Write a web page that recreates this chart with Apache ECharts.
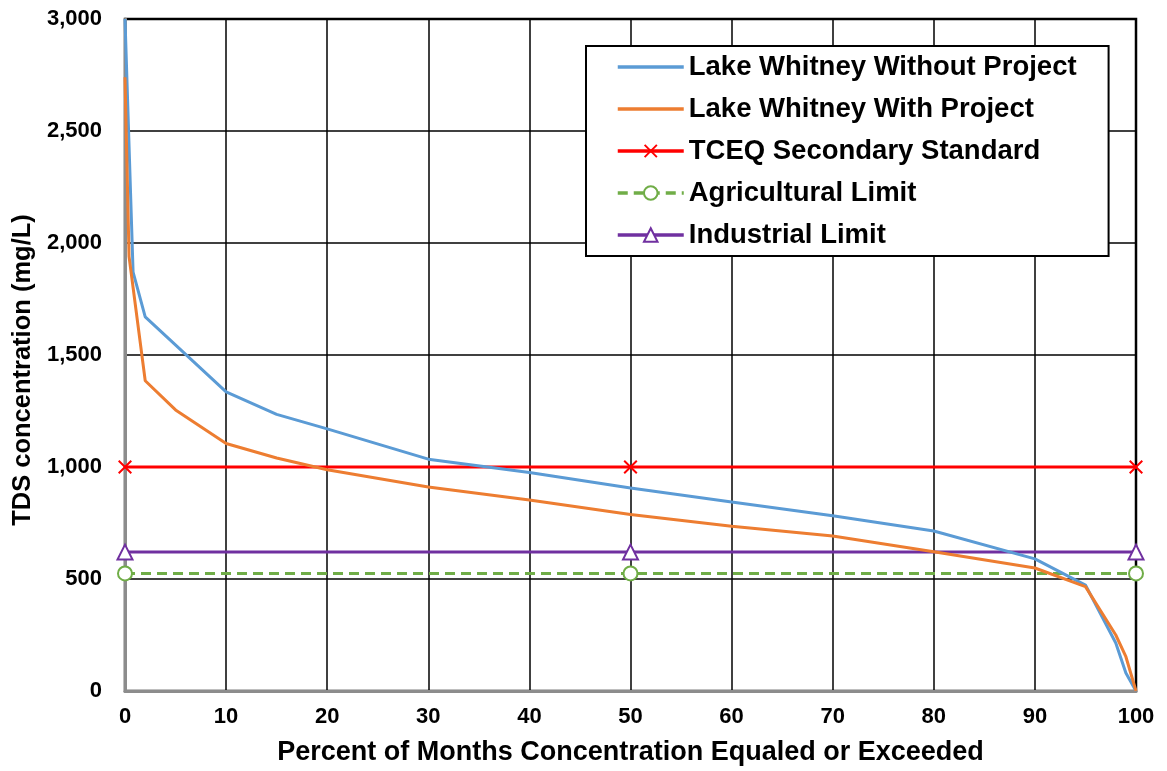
<!DOCTYPE html>
<html>
<head>
<meta charset="utf-8">
<script src="https://cdn.jsdelivr.net/npm/echarts@6/dist/echarts.min.js"></script>
<style>
  html, body { margin: 0; padding: 0; background: #fff; }
  #chart { width: 1167px; height: 771px; }
</style>
</head>
<body>
<div id="chart"></div>
<script>
// Exceedance curves: [percent of months, TDS mg/L]
const withoutProject = [
  [0, 3000], [0.8, 1870], [2, 1670], [10, 1335], [15, 1235], [20, 1170],
  [30, 1035], [40, 975], [50, 906], [60, 844], [70, 782], [80, 714],
  [90, 590], [95, 473], [98, 214], [99, 80], [100, 0]
];
const withProject = [
  [0, 2740], [0.4, 1940], [2, 1385], [5, 1255], [10, 1105], [15, 1040],
  [20, 988], [30, 911], [40, 853], [50, 788], [60, 735], [70, 692],
  [80, 622], [90, 549], [95, 466], [98, 250], [99, 153], [100, 0]
];
// Reference limits (mg/L), marked at 0, 50 and 100 percent
const limitX = [0, 50, 100];
const tceqStandard = 1000;
const agriculturalLimit = 525;
const industrialLimit = 620;

const seriesNames = [
  'Lake Whitney Without Project',
  'Lake Whitney With Project',
  'TCEQ Secondary Standard',
  'Agricultural Limit',
  'Industrial Limit'
];

const FONT = '"Liberation Sans", Arial, sans-serif';
const crossPath = 'path://M0,1L1,0L5,4L9,0L10,1L6,5L10,9L9,10L5,6L1,10L0,9L4,5Z';

const limitLine = v => limitX.map(x => [x, v]);

// Curves have no markers, so hide the symbol in their legend icons
const legendData = seriesNames.map((name, i) =>
  i < 2 ? { name, itemStyle: { opacity: 0 } } : { name });

const chart = echarts.init(document.getElementById('chart'), null, { renderer: 'canvas' });
chart.setOption({
  animation: false,
  backgroundColor: '#fff',
  grid: {
    left: 125, right: 31, top: 19, bottom: 80,
    show: true, borderColor: '#000', borderWidth: 2.5, backgroundColor: 'transparent'
  },
  legend: {
    orient: 'vertical',
    left: 586, top: 46,
    padding: [6, 32, 6, 30],
    itemGap: 12,
    itemWidth: 66, itemHeight: 17,
    backgroundColor: '#fff',
    borderColor: '#000', borderWidth: 2,
    lineStyle: { width: 3.5 },
    data: legendData,
    textStyle: { fontFamily: FONT, fontWeight: 'bold', fontSize: 27.5, color: '#000', lineHeight: 30 }
  },
  xAxis: {
    type: 'value', min: 0, max: 100, interval: 10,
    name: 'Percent of Months Concentration Equaled or Exceeded',
    nameLocation: 'middle', nameGap: 48,
    nameTextStyle: { fontFamily: FONT, fontWeight: 'bold', fontSize: 27, color: '#000' },
    axisLine: { show: true, lineStyle: { color: '#8c8c8c', width: 3 } },
    axisTick: { show: false },
    axisLabel: { margin: 15, fontFamily: FONT, fontWeight: 'bold', fontSize: 22, color: '#000' },
    splitLine: { show: true, lineStyle: { color: '#000', width: 1.5 } }
  },
  yAxis: {
    type: 'value', min: 0, max: 3000, interval: 500,
    name: 'TDS concentration (mg/L)',
    nameLocation: 'middle', nameGap: 80,
    nameTextStyle: {
      fontFamily: FONT, fontWeight: 'bold', fontSize: 25.5, color: '#000',
      padding: [0, 30, 0, 0]
    },
    axisLine: { show: true, lineStyle: { color: '#8c8c8c', width: 3 } },
    axisTick: { show: false },
    axisLabel: {
      margin: 23, fontFamily: FONT, fontWeight: 'bold', fontSize: 22, color: '#000',
      formatter: v => v.toLocaleString('en-US')
    },
    splitLine: { show: true, lineStyle: { color: '#000', width: 1.5 } }
  },
  series: [
    {
      name: seriesNames[0], type: 'line', data: withoutProject,
      symbol: 'none', z: 5,
      lineStyle: { color: '#5B9BD5', width: 3 }, itemStyle: { color: '#5B9BD5' }
    },
    {
      name: seriesNames[1], type: 'line', data: withProject,
      symbol: 'none', z: 5,
      lineStyle: { color: '#ED7D31', width: 3 }, itemStyle: { color: '#ED7D31' }
    },
    {
      name: seriesNames[2], type: 'line', data: limitLine(tceqStandard),
      symbol: crossPath, symbolSize: 14, z: 4,
      lineStyle: { color: '#FF0000', width: 3 }, itemStyle: { color: '#FF0000' }
    },
    {
      name: seriesNames[3], type: 'line', data: limitLine(agriculturalLimit),
      symbol: 'emptyCircle', symbolSize: 14, z: 4,
      lineStyle: { color: '#70AD47', width: 3, type: [10, 6] },
      itemStyle: { color: '#70AD47', borderWidth: 2 }
    },
    {
      name: seriesNames[4], type: 'line', data: limitLine(industrialLimit),
      symbol: 'emptyTriangle', symbolSize: 15, z: 4,
      lineStyle: { color: '#7030A0', width: 3 },
      itemStyle: { color: '#7030A0', borderWidth: 2 }
    }
  ]
});
</script>
</body>
</html>
